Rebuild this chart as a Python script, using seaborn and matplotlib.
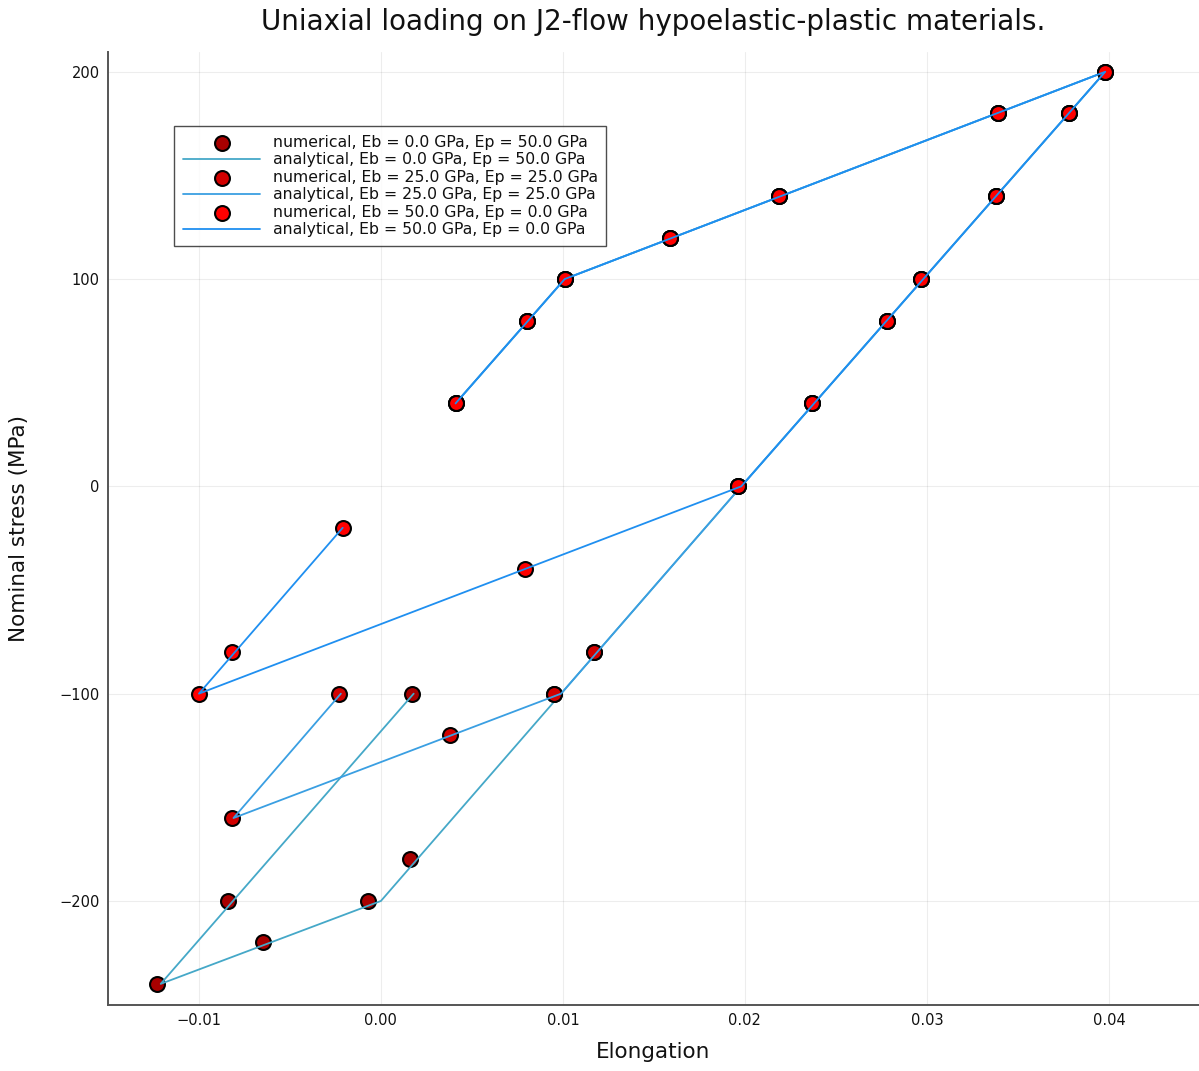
import matplotlib
matplotlib.use("Agg")
import matplotlib.pyplot as plt
import seaborn as sns
import pandas as pd

# ---- data ----
labels = ["Eb = 0.0 GPa, Ep = 50.0 GPa",
          "Eb = 25.0 GPa, Ep = 25.0 GPa",
          "Eb = 50.0 GPa, Ep = 0.0 GPa"]

# common loading / unloading numerical samples
up_eps = [0.0041, 0.0080, 0.0101, 0.0159, 0.0219, 0.0339, 0.0398, 0.0378, 0.0338, 0.0297, 0.0278, 0.0237, 0.0196]
up_sig = [40, 80, 100, 120, 140, 180, 200, 180, 140, 100, 80, 40, 0]

num1_eps = up_eps + [0.0117, 0.0095, 0.0016, -0.0007, -0.0065, -0.0123, -0.0084, 0.0017]
num1_sig = up_sig + [-80, -100, -180, -200, -220, -240, -200, -100]
num2_eps = up_eps + [0.0117, 0.0095, 0.0038, -0.0082, -0.0023]
num2_sig = up_sig + [-80, -100, -120, -160, -100]
num3_eps = up_eps + [0.0079, -0.0100, -0.0082, -0.0021]
num3_sig = up_sig + [-40, -100, -80, -20]

# analytical paths (vertices)
ana_up_eps = [0.0041, 0.0101, 0.0398, 0.0198]
ana_up_sig = [40, 100, 200, 0]
ana1_eps = ana_up_eps + [0.0000, -0.0121, 0.0018]
ana1_sig = ana_up_sig + [-200, -240, -100]
ana2_eps = ana_up_eps + [0.0099, -0.0081, -0.0022]
ana2_sig = ana_up_sig + [-100, -160, -100]
ana3_eps = ana_up_eps + [-0.0100, -0.0021]
ana3_sig = ana_up_sig + [-100, -20]

marker_colors = ["#a80000", "#d20000", "#ff0000"]
line_colors = ["#45a8c8", "#3a9fe2", "#1f8ff0"]

xticks = [-0.01, 0.00, 0.01, 0.02, 0.03, 0.04]
xticklabels = ["\u22120.01", "0.00", "0.01", "0.02", "0.03", "0.04"]
yticks = [-200, -100, 0, 100, 200]
yticklabels = ["\u2212200", "\u2212100", "0", "100", "200"]

# ---- plot ----
sns.set_theme(style="white")
plt.rcParams['font.family'] = ['DejaVu Sans']
fig = plt.figure(figsize=(11.99, 10.71), dpi=100)
ax = fig.add_axes([0.090, 0.0616, 0.910, 0.890])

nums = [(num1_eps, num1_sig), (num2_eps, num2_sig), (num3_eps, num3_sig)]
anas = [(ana1_eps, ana1_sig), (ana2_eps, ana2_sig), (ana3_eps, ana3_sig)]
z = 2
for i in range(3):
    dn = pd.DataFrame({"e": nums[i][0], "s": nums[i][1]})
    sns.scatterplot(data=dn, x="e", y="s", ax=ax, s=115, color=marker_colors[i],
                    edgecolor="black", linewidth=1.5, zorder=z,
                    label="numerical, " + labels[i])
    z += 1
    da = pd.DataFrame({"e": anas[i][0], "s": anas[i][1]})
    sns.lineplot(data=da, x="e", y="s", ax=ax, sort=False, estimator=None,
                 color=line_colors[i], linewidth=1.3, zorder=z,
                 label="analytical, " + labels[i])
    z += 1

ax.set_xlim(-0.0150, 0.04495)
ax.set_ylim(-250.2, 209.6)
ax.set_xticks(xticks)
ax.set_xticklabels(xticklabels)
ax.set_yticks(yticks)
ax.set_yticklabels(yticklabels)
ax.tick_params(axis="both", direction="in", length=4, width=0.6, colors="#444444",
               labelsize=10.5, labelcolor="#111111", pad=6)
ax.grid(True, color="#000000", alpha=0.07, linewidth=0.8)
for sp in ["top", "right"]:
    ax.spines[sp].set_visible(False)
for sp in ["left", "bottom"]:
    ax.spines[sp].set_color("#555555")
    ax.spines[sp].set_linewidth(1.4)

ax.set_xlabel("Elongation", fontsize=15.5, labelpad=10, color="#111111")
ax.set_ylabel("Nominal stress (MPa)", fontsize=15.5, labelpad=22, color="#111111")
ax.set_title("Uniaxial loading on J2-flow hypoelastic-plastic materials.", fontsize=20, pad=16,
             color="#111111")

leg = ax.legend(loc="upper left", bbox_to_anchor=(0.061, 0.922), fontsize=11.3,
                frameon=True, fancybox=False, labelspacing=0.16, handlelength=4.9,
                handletextpad=0.8, borderpad=0.55, borderaxespad=0)
leg.get_frame().set_edgecolor("#222222")
leg.get_frame().set_linewidth(1.0)
for t in leg.get_texts():
    t.set_color("#111111")

fig.savefig("out.png", dpi=100)
